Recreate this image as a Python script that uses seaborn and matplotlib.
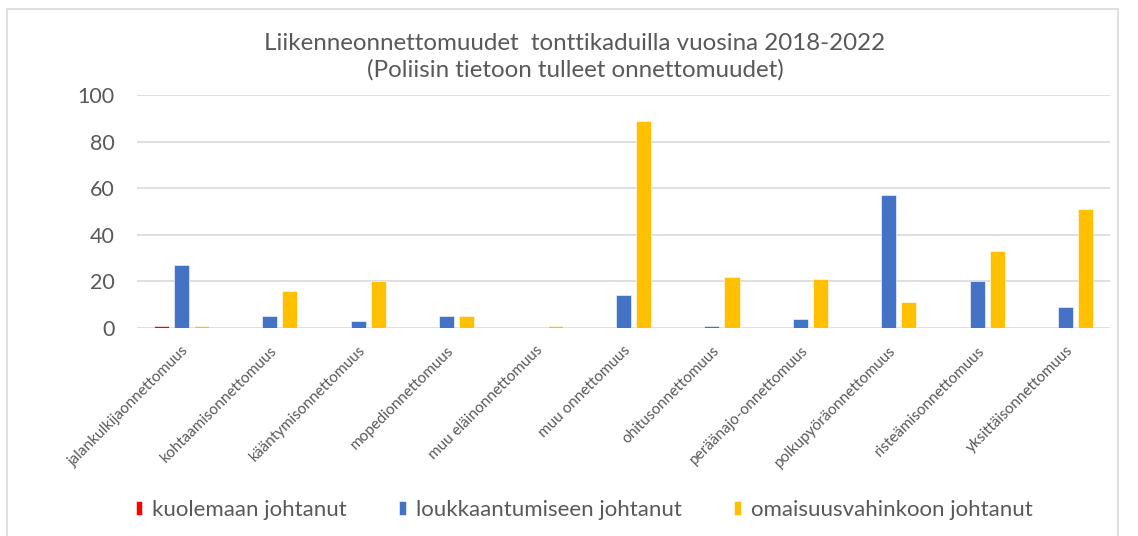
import matplotlib
matplotlib.use("Agg")
import matplotlib.pyplot as plt
import seaborn as sns
import pandas as pd
from matplotlib.patches import Rectangle

categories = ["jalankulkijaonnettomuus", "kohtaamisonnettomuus", "kääntymisonnettomuus",
              "mopedionnettomuus", "muu eläinonnettomuus", "muu onnettomuus",
              "ohitusonnettomuus", "peräänajo-onnettomuus", "polkupyöräonnettomuus",
              "risteämisonnettomuus", "yksittäisonnettomuus"]
kuolemaan = [1, 0, 0, 0, 0, 0, 0, 0, 0, 0, 0]
loukkaantumiseen = [27, 5, 3, 5, 0, 14, 1, 4, 57, 20, 9]
omaisuusvahinkoon = [1, 16, 20, 5, 1, 89, 22, 21, 11, 33, 51]
series_names = ["kuolemaan johtanut", "loukkaantumiseen johtanut", "omaisuusvahinkoon johtanut"]
colors = ["#FF0000", "#4472C4", "#FFC000"]
yticks = [0, 20, 40, 60, 80, 100]
title = "Liikenneonnettomuudet  tonttikaduilla vuosina 2018-2022\n(Poliisin tietoon tulleet onnettomuudet)"

rows = []
for name, vals in zip(series_names, [kuolemaan, loukkaantumiseen, omaisuusvahinkoon]):
    for c, v in zip(categories, vals):
        rows.append({"kategoria": c, "sarja": name, "arvo": v})
df = pd.DataFrame(rows)

sns.set_theme(style="white")
plt.rcParams["font.family"] = ["Lato", "DejaVu Sans"]
txt = "#595959"

fig = plt.figure(figsize=(11.38, 5.36), dpi=100)
ax = fig.add_axes([137/1138, 1-328/536, (1110-137)/1138, (328-95)/536])

sns.barplot(data=df, x="kategoria", y="arvo", hue="sarja", order=categories,
            hue_order=series_names, palette=colors, saturation=1, width=0.68, gap=0.25,
            edgecolor="white", linewidth=0.4, ax=ax, legend=True)

ax.set_ylim(0, 100)
ax.set_yticks(yticks)
ax.set_xlim(-0.5, len(categories) - 0.5)
ax.yaxis.grid(True, color="#D9D9D9", linewidth=1.2)
ax.set_axisbelow(True)
for s in ax.spines.values():
    s.set_visible(False)
ax.set_xlabel("")
ax.set_ylabel("")
ax.tick_params(axis="y", labelsize=15.5, labelcolor=txt, length=0, pad=16)
ax.tick_params(axis="x", labelsize=11, labelcolor=txt, length=0, pad=11)
for lab in ax.get_xticklabels():
    lab.set_rotation(45)
    lab.set_ha("right")
    lab.set_rotation_mode("anchor")

handles, labels = ax.get_legend_handles_labels()
ax.get_legend().remove()
fig.legend(handles, labels, loc="center", bbox_to_anchor=(584/1138, 1-510/536),
           ncol=3, frameon=False, fontsize=16, labelcolor=txt,
           handlelength=0.3, handleheight=0.6, handletextpad=0.45, columnspacing=2.35)

fig.text(575/1138, 1-57/536, title, ha="center", va="center", fontsize=17.4,
         color=txt, linespacing=1.3)

fig.patches.append(Rectangle((7/1138, -0.02), (1118-7)/1138, 1-9/536 + 0.02,
                             transform=fig.transFigure, fill=False,
                             edgecolor="#D9D9D9", linewidth=1.2))

fig.savefig("out.png", dpi=100)
